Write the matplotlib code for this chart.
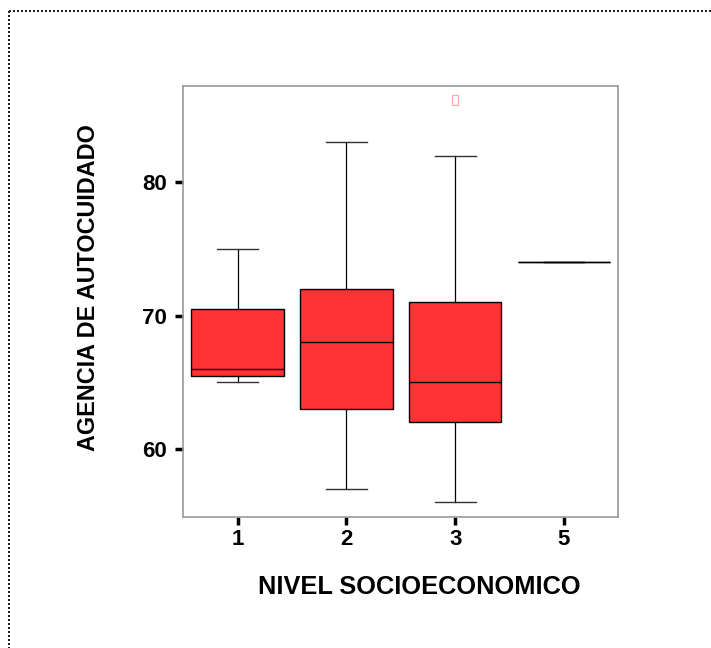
import matplotlib.pyplot as plt
from matplotlib.lines import Line2D

plt.rcParams['font.family'] = ['Liberation Sans', 'DejaVu Sans']

# Box summary per socioeconomic level
levels = ['1', '2', '3', '5']
q1 = [65.5, 63.0, 62.0, 74.0]
medians = [66.0, 68.0, 65.0, 74.0]
q3 = [70.5, 72.0, 71.0, 74.0]
whisker_low = [65.0, 57.0, 56.0, 74.0]
whisker_high = [75.0, 83.0, 82.0, 74.0]
outliers = [[], [], [86.2], []]


def make_chart():
    fig = plt.figure(figsize=(7.11, 6.48), dpi=100)
    ax = fig.add_axes([0.2578, 0.2022, 0.6118, 0.6647])

    stats = []
    for i, lab in enumerate(levels):
        stats.append(dict(label=lab, q1=q1[i], med=medians[i], q3=q3[i],
                          whislo=whisker_low[i], whishi=whisker_high[i],
                          fliers=outliers[i]))

    flier_marker = [(-0.6, -1), (0.6, -1), (0.6, 1), (-0.6, 1), (-0.6, -1)]
    ax.bxp(stats, positions=range(len(levels)), widths=0.85, capwidths=0.375,
           patch_artist=True,
           boxprops=dict(facecolor='#ff3333', edgecolor='black', linewidth=1.0),
           medianprops=dict(color='black', linewidth=1.0),
           whiskerprops=dict(color='black', linewidth=0.9),
           capprops=dict(color='#333333', linewidth=1.0),
           flierprops=dict(marker=flier_marker, markersize=7.5,
                           markerfacecolor='none', markeredgecolor='#ffaaaa',
                           markeredgewidth=0.9))

    ax.set_xlim(-0.5, 3.5)
    ax.set_ylim(54.9, 87.2)
    ax.set_yticks([60, 70, 80])
    ax.set_xticks(range(len(levels)))
    ax.set_xticklabels(levels)

    for s in ax.spines.values():
        s.set_color('#999999')
        s.set_linewidth(1.2)

    ax.tick_params(axis='both', direction='out', length=5.5, width=2.5,
                   color='black', labelsize=16, pad=3)
    ax.tick_params(axis='y', pad=6)
    ax.tick_params(top=False, right=False)
    for t in ax.get_xticklabels() + ax.get_yticklabels():
        t.set_fontweight('bold')

    ax.set_xlabel('NIVEL SOCIOECONOMICO', fontsize=18.3, fontweight='bold')
    ax.set_ylabel('AGENCIA DE AUTOCUIDADO', fontsize=16.8, fontweight='bold')
    ax.xaxis.set_label_coords(0.542, -0.1625)
    ax.yaxis.set_label_coords(-0.219, 0.532)
    ax.xaxis.label.set_va('center')
    ax.yaxis.label.set_va('center')

    # dotted frame on the top and left edges of the figure
    for xs, ys in [([9 / 711, 1.0], [1 - 11 / 648, 1 - 11 / 648]),
                   ([9 / 711, 9 / 711], [1 - 11 / 648, 0.0])]:
        fig.add_artist(Line2D(xs, ys, transform=fig.transFigure, color='#222222',
                              linewidth=1.44, linestyle=(0, (1, 1)),
                              dash_capstyle='butt'))

    fig.savefig('out.png', dpi=100)


if __name__ == '__main__':
    make_chart()
